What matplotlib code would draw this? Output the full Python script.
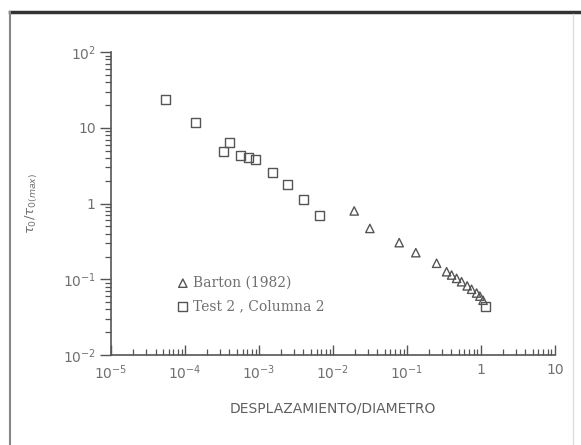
import matplotlib
matplotlib.use("Agg")
import matplotlib.pyplot as plt
from matplotlib.lines import Line2D
from matplotlib.ticker import FixedLocator, FixedFormatter, LogLocator, NullFormatter

# Test 2, Columna 2 (squares)
test_x = [5.4e-5, 1.41e-4, 4.06e-4, 3.37e-4, 5.7e-4, 7.3e-4, 9.1e-4,
          1.51e-3, 2.44e-3, 3.97e-3, 6.67e-3, 1.17]
test_y = [23.8, 11.7, 6.36, 4.94, 4.25, 4.06, 3.84,
          2.56, 1.76, 1.14, 0.69, 0.044]

# Barton (1982) (triangles)
barton_x = [1.94e-2, 3.16e-2, 7.87e-2, 0.132, 0.252, 0.344, 0.402, 0.47,
            0.548, 0.653, 0.748, 0.875, 0.969, 1.07]
barton_y = [0.80, 0.47, 0.305, 0.225, 0.163, 0.126, 0.114, 0.103,
            0.093, 0.082, 0.074, 0.066, 0.060, 0.053]

x_ticks = [1e-5, 1e-4, 1e-3, 1e-2, 1e-1, 1, 10]
x_labels = ['$10^{-5}$', '$10^{-4}$', '$10^{-3}$', '$10^{-2}$', '$10^{-1}$', '1', '10']
y_ticks = [1e-2, 1e-1, 1, 10, 100]
y_labels = ['$10^{-2}$', '$10^{-1}$', '1', '10', '$10^{2}$']

grey = '#555555'
txt = '#707070'

fig = plt.figure(figsize=(5.81, 4.45), dpi=100)
ax = fig.add_axes([0.191, 0.202, 0.764, 0.681])

ax.scatter(barton_x, barton_y, marker='^', s=36, facecolors='none',
           edgecolors=grey, linewidths=1.0, label='Barton (1982)')
ax.scatter(test_x, test_y, marker='s', s=42, facecolors='none',
           edgecolors=grey, linewidths=1.0, label='Test 2 , Columna 2')

ax.set_xscale('log')
ax.set_yscale('log')
ax.set_xlim(1e-5, 10)
ax.set_ylim(1e-2, 1e2)

for s in ['top', 'right']:
    ax.spines[s].set_visible(False)
for s in ['left', 'bottom']:
    ax.spines[s].set_color(grey)
    ax.spines[s].set_linewidth(1.2)

ax.xaxis.set_major_locator(FixedLocator(x_ticks))
ax.xaxis.set_major_formatter(FixedFormatter(x_labels))
ax.yaxis.set_major_locator(FixedLocator(y_ticks))
ax.yaxis.set_major_formatter(FixedFormatter(y_labels))
ax.xaxis.set_minor_locator(LogLocator(base=10, subs=range(2, 10), numticks=20))
ax.yaxis.set_minor_locator(LogLocator(base=10, subs=range(2, 10), numticks=20))
ax.xaxis.set_minor_formatter(NullFormatter())
ax.yaxis.set_minor_formatter(NullFormatter())

ax.tick_params(axis='x', which='major', direction='in', length=7, width=1.0,
               color=grey, labelcolor=txt, labelsize=10, pad=6)
ax.tick_params(axis='x', which='minor', direction='in', length=4, width=0.9, color=grey)
ax.tick_params(axis='y', which='major', direction='out', length=8, width=1.0,
               color=grey, labelcolor=txt, labelsize=10, pad=3)
ax.tick_params(axis='y', which='minor', direction='out', length=4, width=0.9, color=grey)

ax.set_xlabel('DESPLAZAMIENTO/DIAMETRO', color='#606060', fontsize=10,
              family=['Liberation Sans Narrow', 'DejaVu Sans'], labelpad=14)
ax.set_ylabel(r'$\tau_0/\tau_{0(max)}$', color=txt, fontsize=9.5, labelpad=16)

leg = ax.legend(loc='upper left', bbox_to_anchor=(0.14, 0.28), frameon=False,
                handlelength=0.6, handletextpad=0.4, labelspacing=0.65,
                borderaxespad=0, prop={'family': 'DejaVu Serif', 'size': 10})
for t in leg.get_texts():
    t.set_color(txt)

# scanned page frame
fig.add_artist(Line2D([10 / 581, 1.0], [1 - 12 / 445] * 2, color='#333333', lw=2.5))
fig.add_artist(Line2D([10 / 581] * 2, [0, 1 - 12 / 445], color='#888888', lw=1.5))
fig.add_artist(Line2D([573 / 581] * 2, [0, 1 - 14 / 445], color='#dddddd', lw=1.0))

fig.savefig('out.png', dpi=100)
